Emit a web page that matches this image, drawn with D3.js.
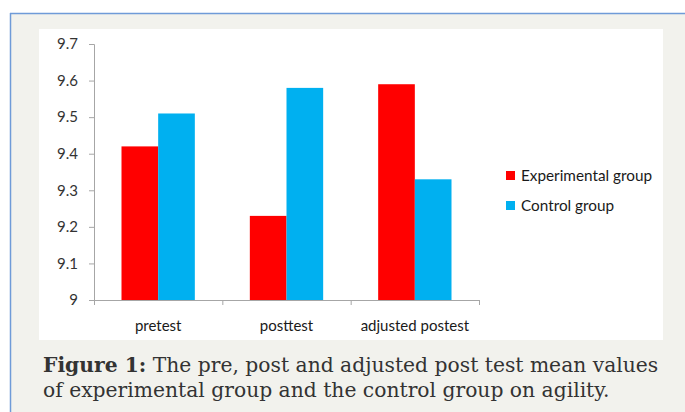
<!DOCTYPE html>
<html>
<head>
<meta charset="utf-8">
<script src="https://cdn.jsdelivr.net/npm/d3@7"></script>
<style>
  body { margin: 0; background: #fff; }
  svg { display: block; }
</style>
</head>
<body>
<script>
var categories = ["pretest", "posttest", "adjusted postest"];
var seriesNames = ["Experimental group", "Control group"];
var experimental = [9.42, 9.23, 9.59];
var control = [9.51, 9.58, 9.33];
var yTicks = [9, 9.1, 9.2, 9.3, 9.4, 9.5, 9.6, 9.7];
var colors = ["#ff0000", "#00b0f0"];

var W = 685, H = 412;
var plot = { left: 94, right: 479, top: 44, bottom: 300 };
var labelFont = "Lato, 'Open Sans', sans-serif";

var svg = d3.select("body").append("svg")
  .attr("width", W)
  .attr("height", H);

// outer frame
svg.append("rect").attr("x", 10).attr("y", 13).attr("width", W).attr("height", H)
  .attr("fill", "#f2f2ed");
svg.append("line").attr("x1", 10.5).attr("x2", 10.5).attr("y1", 13).attr("y2", H)
  .attr("stroke", "#6f9bd8").attr("stroke-width", 1.5);
svg.append("line").attr("x1", 10).attr("x2", W).attr("y1", 13.5).attr("y2", 13.5)
  .attr("stroke", "#6f9bd8").attr("stroke-width", 1.5);

// chart area
svg.append("rect").attr("x", 39).attr("y", 29).attr("width", 624).attr("height", 311)
  .attr("fill", "#fff");

var x0 = d3.scaleBand().domain(categories).range([plot.left, plot.right]).paddingInner(0).paddingOuter(0);
var x1 = d3.scaleBand().domain(seriesNames).range([0, x0.bandwidth()]).paddingInner(0).paddingOuter(0.75);
var y = d3.scaleLinear().domain([9, 9.7]).range([plot.bottom, plot.top]);

var g = svg.append("g");

// y axis
var yAxis = g.append("g")
  .attr("transform", "translate(" + plot.left + ",0)")
  .call(d3.axisLeft(y).tickValues(yTicks).tickSize(5).tickPadding(11)
    .tickFormat(function (d) { return d === 9 ? "9" : d3.format(".1f")(d); }));
yAxis.select(".domain").attr("stroke", "#a6a6a6");
yAxis.selectAll(".tick line").attr("stroke", "#a6a6a6");
yAxis.selectAll("text").attr("fill", "#333")
  .style("font-family", labelFont).style("font-size", "15px");

// bars
var data = categories.map(function (c, i) {
  return { cat: c, values: [experimental[i], control[i]] };
});

g.selectAll(".cat")
  .data(data)
  .enter().append("g")
  .attr("class", "cat")
  .attr("transform", function (d) { return "translate(" + x0(d.cat) + ",0)"; })
  .selectAll("rect")
  .data(function (d) {
    return d.values.map(function (v, j) { return { name: seriesNames[j], value: v, j: j }; });
  })
  .enter().append("rect")
  .attr("x", function (d) { return x1(d.name); })
  .attr("width", x1.bandwidth())
  .attr("y", function (d) { return y(d.value); })
  .attr("height", function (d) { return y(9) - y(d.value); })
  .attr("fill", function (d) { return colors[d.j]; });

// x axis
var xAxis = g.append("g")
  .attr("transform", "translate(0," + plot.bottom + ")")
  .call(d3.axisBottom(x0).tickSize(0).tickPadding(20).tickSizeOuter(0));
xAxis.select(".domain").attr("stroke", "#a6a6a6");
xAxis.selectAll("text").attr("fill", "#1a1a1a")
  .style("font-family", labelFont).style("font-size", "15px");
// category separators
var seps = [plot.left].concat(categories.map(function (c) { return x0(c) + x0.bandwidth(); }));
g.selectAll(".sep").data(seps).enter().append("line")
  .attr("x1", function (d) { return d + 0.5; }).attr("x2", function (d) { return d + 0.5; })
  .attr("y1", plot.bottom).attr("y2", plot.bottom + 5)
  .attr("stroke", "#a6a6a6");

// legend
var legend = svg.append("g").attr("transform", "translate(506,171)");
seriesNames.forEach(function (name, i) {
  var row = legend.append("g").attr("transform", "translate(0," + (i * 30) + ")");
  row.append("rect").attr("width", 9).attr("height", 9).attr("fill", colors[i]);
  row.append("text").attr("x", 15).attr("y", 10)
    .attr("fill", "#1a1a1a")
    .style("font-family", labelFont).style("font-size", "15.3px")
    .text(name);
});

// caption
var cap = svg.append("g").style("font-family", "'DejaVu Serif', serif")
  .style("font-size", "20.3px").attr("fill", "#333");
var t1 = cap.append("text").attr("x", 43).attr("y", 372);
t1.append("tspan").style("font-weight", "bold").text("Figure 1:");
t1.append("tspan").text(" The pre, post and adjusted post test mean values");
cap.append("text").attr("x", 43).attr("y", 397)
  .text("of experimental group and the control group on agility.");
</script>
</body>
</html>
